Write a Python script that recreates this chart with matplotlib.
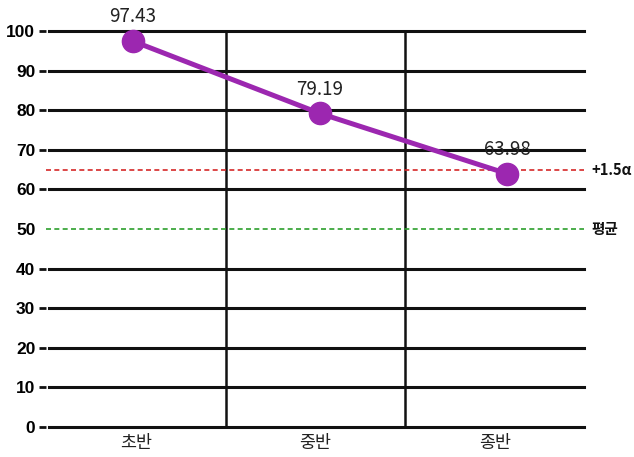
import matplotlib
matplotlib.use("Agg")
import matplotlib.pyplot as plt
import matplotlib.transforms as mtransforms

categories = ["초반", "중반", "종반"]
values = [97.43, 79.19, 63.98]
y_ticks = [0, 10, 20, 30, 40, 50, 60, 70, 80, 90, 100]
ref_lines = [65, 50]
ref_labels = ["+1.5α", "평균"]
ref_colors = ["#d62728", "#2ca02c"]

plt.rcParams['font.family'] = ['Noto Sans CJK KR', 'DejaVu Sans']

fig = plt.figure(figsize=(6.34, 4.57), dpi=100)
ax = fig.add_axes([0.0733, 0.0656, 0.8486, 0.8666])
ax.set_xlim(0, 3)
ax.set_ylim(0, 100)
for s in ax.spines.values():
    s.set_visible(False)

# gridlines (skip where a reference line sits)
for yv in y_ticks:
    if yv in ref_lines:
        continue
    ax.axhline(yv, xmin=0.004, color="#111111", lw=2.2, zorder=1, clip_on=False)
# category separators
for i in range(1, len(categories)):
    ax.plot([i, i], [0, 100], color="#111111", lw=1.8, zorder=1)

# reference lines
for yv, lab, col in zip(ref_lines, ref_labels, ref_colors):
    ax.axhline(yv, color=col, lw=1.2, ls=(0, (3, 2)), zorder=2)
    ax.text(1.012, yv, lab, transform=mtransforms.blended_transform_factory(ax.transAxes, ax.transData),
            ha="left", va="center", fontsize=10.5, fontweight="bold", color="#111111")

ax.set_yticks(y_ticks)
ax.set_yticklabels([str(v) for v in y_ticks], fontsize=12.5, fontweight="bold",
                   family=["Liberation Sans", "DejaVu Sans"])
ax.tick_params(axis="y", length=5, width=2, color="#111111", pad=3)
for t, yv in zip(ax.yaxis.get_major_ticks(), y_ticks):
    if yv in ref_lines:
        t.tick1line.set_visible(False)
ax.set_xticks([i + 0.5 for i in range(len(categories))])
ax.set_xticklabels(categories, fontsize=12.5, color="#222222")
ax.tick_params(axis="x", length=0, pad=5)

# data line on its own x scale
ax2 = ax.twiny()
ax2.set_xlim(-0.4626, 2.4146)
ax2.set_ylim(0, 100)
ax2.axis("off")
xs = list(range(len(values)))
ax2.plot(xs, values, color="#9c27b0", lw=3.6, marker="o", markersize=16, zorder=5, clip_on=False)
for x, v in zip(xs, values):
    ax2.annotate(f"{v:.2f}", (x, v), xytext=(0, 10), textcoords="offset points",
                 ha="center", va="bottom", fontsize=13.5, color="#222222")

fig.savefig("out.png", dpi=100)
